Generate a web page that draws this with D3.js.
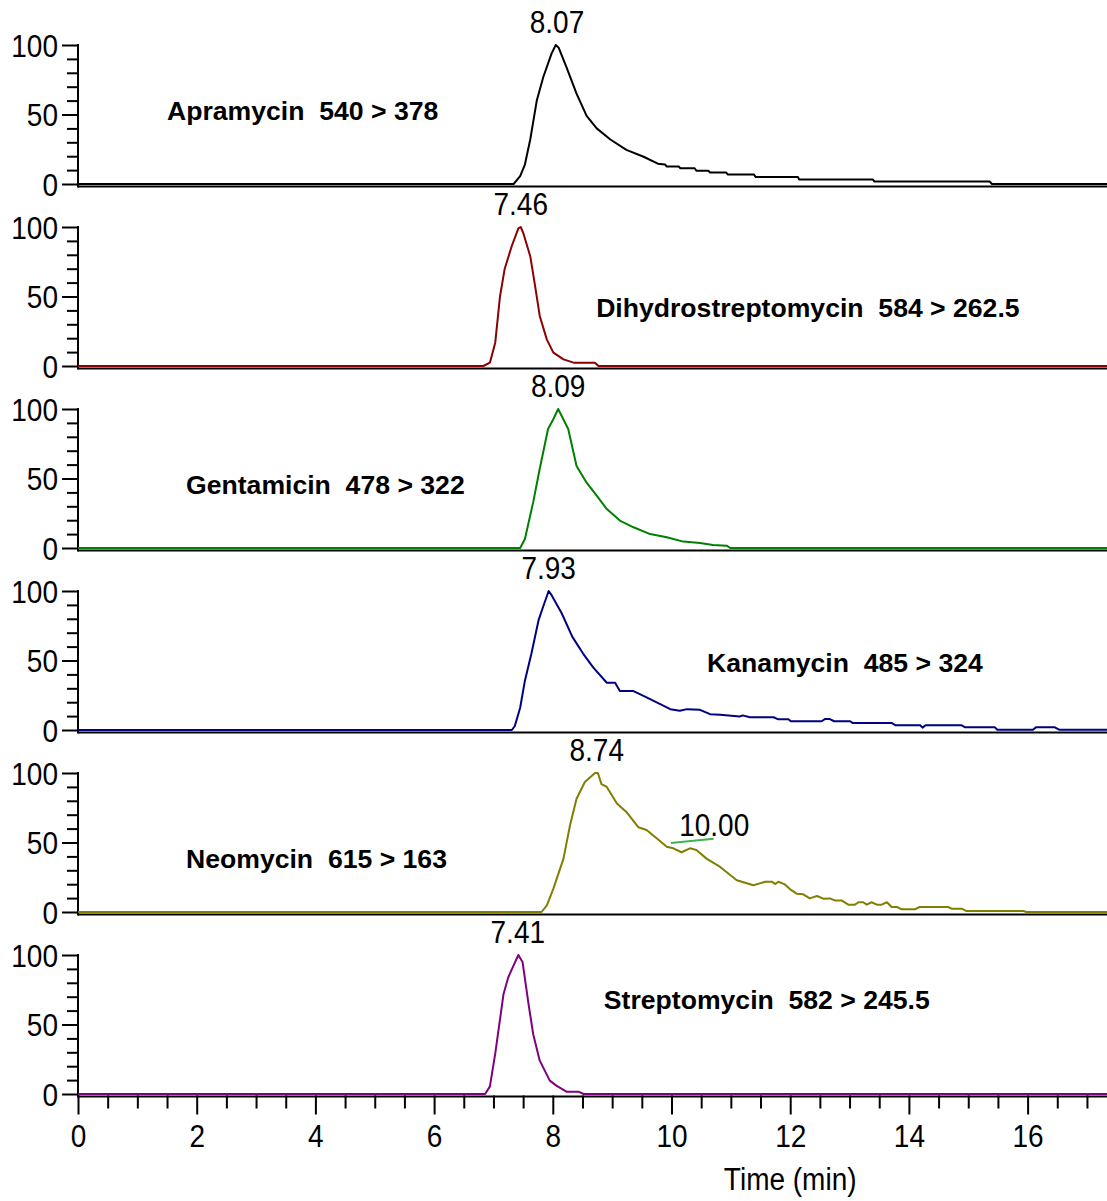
<!DOCTYPE html>
<html lang="en">
<head>
<meta charset="UTF-8">
<script src="https://cdn.jsdelivr.net/npm/d3@7"></script>
<style>
  body { margin: 0; background: #fff; }
  svg { display: block; }
</style>
</head>
<body>
<div id="fig"></div>
<script>
// --- data: [time (min), relative intensity %] ---
const apramycin = [[0,0],[7.34,0],[7.45,5.6],[7.53,14],[7.62,32],[7.73,60],[7.84,77],[7.98,94],[8.05,100],[8.10,98],[8.23,84],[8.40,65],[8.57,49],[8.74,40],[8.97,32],[9.24,24.6],[9.53,19.6],[9.77,14.6],[9.89,14],[9.92,12.6],[10.12,12.6],[10.15,11.3],[10.39,11.3],[10.42,9.5],[10.62,9.5],[10.65,8.3],[10.92,8.3],[10.95,6.8],[11.39,6.8],[11.42,5.0],[12.13,5.0],[12.15,3.3],[13.39,3.3],[13.42,1.8],[15.36,1.8],[15.40,0],[17.4,0]];
const dihydrostreptomycin = [[0,0],[6.83,0],[6.94,2.4],[7.03,16.8],[7.11,50],[7.19,70],[7.31,86.5],[7.42,99],[7.46,100],[7.50,96],[7.62,79],[7.70,58],[7.78,36],[7.90,19],[8.01,9.6],[8.18,4.8],[8.35,2.4],[8.71,2.4],[8.77,0],[17.4,0]];
const gentamicin = [[0,0],[7.45,0],[7.53,6.5],[7.67,33],[7.78,57],[7.92,85.6],[8.01,92.8],[8.09,100],[8.15,95],[8.26,85.6],[8.40,59],[8.57,47],[8.74,37.6],[8.91,28],[9.13,19.7],[9.36,14.9],[9.64,10],[9.92,7.7],[10.20,4.6],[10.48,3.6],[10.70,2.2],[10.93,1.7],[10.99,0],[17.4,0]];
const kanamycin = [[0,0],[7.31,0],[7.36,2.9],[7.45,16],[7.53,35.5],[7.64,55],[7.76,79],[7.84,89],[7.93,100],[7.98,97],[8.15,84],[8.33,67],[8.51,55],[8.68,45],[8.91,34],[9.05,34],[9.13,28],[9.36,28],[9.58,23.5],[9.81,18.6],[9.98,15],[10.14,13.8],[10.26,15],[10.48,14.5],[10.65,11.4],[10.82,11],[11.15,9.7],[11.20,10.5],[11.32,9.2],[11.72,9.2],[11.80,7.7],[11.97,7.7],[12.01,6.3],[12.53,6.3],[12.59,8.0],[12.66,8.0],[12.74,6.3],[13.01,6.3],[13.05,5.1],[13.71,5.1],[13.77,3.4],[14.19,3.4],[14.23,1.7],[14.28,3.4],[14.89,3.4],[14.95,1.9],[15.45,1.9],[15.49,0.2],[16.09,0.2],[16.14,1.9],[16.46,1.9],[16.53,0.2],[17.4,0.2]];
const neomycin = [[0,0],[7.81,0],[7.90,4.8],[8.01,16.8],[8.18,38.4],[8.29,62.4],[8.40,81.5],[8.54,93.5],[8.71,100],[8.76,100],[8.82,92],[8.91,90],[9.08,78],[9.24,72],[9.44,61],[9.58,59],[9.75,53],[9.92,47],[10.03,45.8],[10.17,43],[10.31,45.8],[10.42,44.6],[10.59,38.4],[10.82,32.4],[11.10,22.8],[11.38,19.2],[11.49,20.6],[11.58,21.8],[11.69,21.8],[11.75,20.1],[11.80,21.8],[11.90,20.1],[12.00,16.3],[12.11,13.2],[12.22,12.7],[12.33,9.8],[12.45,11.5],[12.56,9.6],[12.67,9.8],[12.76,8.2],[12.87,8.2],[12.98,5.3],[13.09,5.3],[13.15,7.0],[13.23,7.0],[13.29,5.3],[13.37,7.0],[13.46,5.3],[13.54,5.3],[13.63,7.0],[13.71,3.6],[13.80,3.6],[13.88,1.9],[14.10,1.9],[14.18,3.6],[14.66,3.6],[14.72,2.4],[14.89,2.4],[14.97,0.7],[15.93,0.7],[15.98,0],[17.4,0]];
const streptomycin = [[0,0],[6.86,0],[6.94,5.5],[7.03,29],[7.17,72],[7.25,84],[7.33,91.6],[7.42,100],[7.49,95],[7.59,65],[7.67,43],[7.78,24],[7.95,9.6],[8.06,6],[8.23,1.7],[8.43,1.7],[8.52,0],[17.4,0]];

const traces = [apramycin, dihydrostreptomycin, gentamicin, kanamycin, neomycin, streptomycin];
const compounds = ["Apramycin", "Dihydrostreptomycin", "Gentamicin", "Kanamycin", "Neomycin", "Streptomycin"];
const transitions = ["540 > 378", "584 > 262.5", "478 > 322", "485 > 324", "615 > 163", "582 > 245.5"];
const peakTimes = [8.07, 7.46, 8.09, 7.93, 8.74, 7.41];
const traceColors = ["#000000", "#8b0000", "#008000", "#000080", "#808000", "#800080"];
// where each compound label starts: [time, intensity]
const labelAnchors = [[1.50, 45.7], [8.73, 35.6], [1.82, 38.5], [10.60, 41.4], [1.82, 32], [8.86, 61.5]];
// extra annotation in the neomycin panel
const extraLabel = {panel: 4, text: "10.00", from: [9.99, 49.6], to: [10.71, 52.7], at: [10.72, 55]};

const yMajor = [0, 50, 100];
const yMinor = [10, 20, 30, 40, 60, 70, 80, 90];
const xMajor = [0, 2, 4, 6, 8, 10, 12, 14, 16];
const xMinor = [0.5, 1, 1.5, 2.5, 3, 3.5, 4.5, 5, 5.5, 6.5, 7, 7.5, 8.5, 9, 9.5, 10.5, 11, 11.5, 12.5, 13, 13.5, 14.5, 15, 15.5, 16.5, 17];

const width = 1107, height = 1201;
const font = "'Liberation Sans', Arial, sans-serif";
const stretch = "scale(1,1.1)";   // the numbers in the original look a bit tall

const svg = d3.select("#fig").append("svg")
    .attr("width", width)
    .attr("height", height);

const x = d3.scaleLinear().domain([0, (1107 - 78) / 59.35]).range([78, 1107]);

const line = d3.line().x(d => x(d[0]));

// plain (non bold) text, slightly stretched vertically
function tallText(sel, px, py, str) {
    return sel.append("text")
        .attr("transform", `translate(${px},${py}) ${stretch}`)
        .attr("text-anchor", "middle")
        .attr("font-family", font).attr("font-size", 28)
        .text(str);
}

traces.forEach((data, i) => {
    const zeroY = 184 + 182 * i;
    const y = d3.scaleLinear().domain([0, 100]).range([zeroY, 45 + 182 * i]);
    const g = svg.append("g");

    // baseline (x axis line)
    g.append("line")
        .attr("x1", 78).attr("x2", 1107)
        .attr("y1", zeroY + 2.5).attr("y2", zeroY + 2.5)
        .attr("stroke", "#000").attr("stroke-width", 2);

    // y axes
    const yMinorAxis = g.append("g")
        .attr("transform", "translate(78,0)")
        .call(d3.axisLeft(y).tickValues(yMinor).tickSize(11).tickSizeOuter(0).tickFormat(""));
    const yAxis = g.append("g")
        .attr("transform", "translate(78,0)")
        .call(d3.axisLeft(y).tickValues(yMajor).tickSize(16).tickSizeOuter(0).tickPadding(4));
    [yMinorAxis, yAxis].forEach(a => {
        a.select(".domain").remove();
        a.selectAll("line").attr("stroke", "#000").attr("stroke-width", 2);
    });
    yAxis.selectAll("text")
        .attr("font-family", font).attr("font-size", 28).attr("fill", "#000")
        .attr("dy", "0.36em")
        .attr("transform", stretch);
    g.append("line")
        .attr("x1", 78).attr("x2", 78)
        .attr("y1", y(100) - 1).attr("y2", zeroY + 3.5)
        .attr("stroke", "#000").attr("stroke-width", 2);

    // trace
    line.y(d => y(d[1]));
    g.append("path")
        .datum(data)
        .attr("d", line)
        .attr("fill", "none")
        .attr("stroke", traceColors[i])
        .attr("stroke-width", 2)
        .attr("stroke-linejoin", "round");

    // peak label
    tallText(g, x(peakTimes[i]), y(100) - 12, d3.format(".2f")(peakTimes[i]));

    // compound label
    g.append("text")
        .attr("x", x(labelAnchors[i][0]))
        .attr("y", y(labelAnchors[i][1]))
        .attr("font-family", font).attr("font-size", 26.6).attr("font-weight", "bold")
        .style("white-space", "pre")
        .text(compounds[i] + "  " + transitions[i]);

    if (extraLabel.panel === i) {
        g.append("line")
            .attr("x1", x(extraLabel.from[0])).attr("y1", y(extraLabel.from[1]))
            .attr("x2", x(extraLabel.to[0])).attr("y2", y(extraLabel.to[1]))
            .attr("stroke", "#3cb44b").attr("stroke-width", 2);
        tallText(g, x(extraLabel.at[0]), y(extraLabel.at[1]), extraLabel.text);
    }
});

// bottom time axis
const axisY = 184 + 182 * 5 + 1.5;
const xMinorAxis = svg.append("g")
    .attr("transform", `translate(0,${axisY})`)
    .call(d3.axisBottom(x).tickValues(xMinor).tickSize(13).tickSizeOuter(0).tickFormat(""));
const xAxis = svg.append("g")
    .attr("transform", `translate(0,${axisY})`)
    .call(d3.axisBottom(x).tickValues(xMajor).tickSize(19).tickSizeOuter(0).tickPadding(8));
[xMinorAxis, xAxis].forEach(a => {
    a.select(".domain").remove();
    a.selectAll("line").attr("stroke", "#000").attr("stroke-width", 2);
});
xAxis.selectAll("text")
    .attr("font-family", font).attr("font-size", 28).attr("fill", "#000")
    .attr("transform", stretch);

tallText(svg, x(12), 1190, "Time (min)");
</script>
</body>
</html>
